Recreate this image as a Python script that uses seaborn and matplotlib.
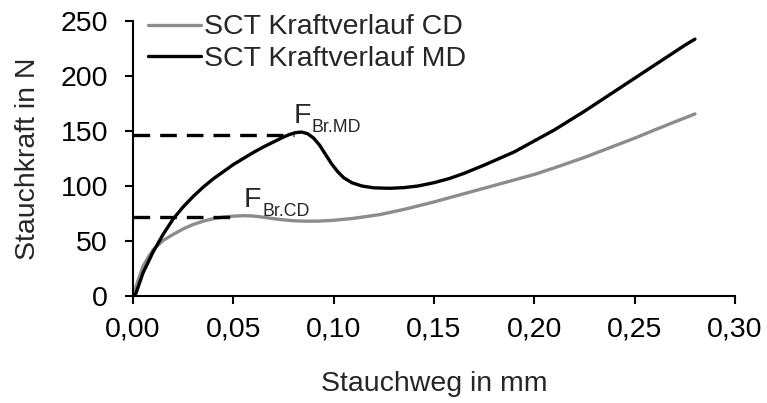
import numpy as np
import pandas as pd
import matplotlib
matplotlib.use("Agg")
import matplotlib.pyplot as plt
from matplotlib.ticker import FixedLocator
import seaborn as sns

# Stauchweg (mm) and force curves (N)
weg_cd = [0.0, 0.0025, 0.005, 0.0075, 0.010, 0.015, 0.020, 0.025, 0.030,
          0.035, 0.040, 0.045, 0.050, 0.055, 0.060, 0.065, 0.070, 0.075,
          0.080, 0.086, 0.093, 0.100, 0.110, 0.123, 0.135, 0.150, 0.165,
          0.180, 0.190, 0.200, 0.210, 0.225, 0.240, 0.250, 0.260, 0.270,
          0.280]
kraft_cd = [0, 14, 27, 35, 42, 50.5, 56, 61, 65,
            68, 70.3, 71.8, 72.6, 73, 72.7, 71.6, 70.3, 69.2,
            68.4, 68, 68.1, 68.8, 70.6, 74, 78.7, 85.5, 93,
            100.5, 105.5, 110.5, 116.5, 126, 136.5, 143.5, 151, 158.3,
            165.5]

weg_md = [0.0, 0.001, 0.005, 0.010, 0.015, 0.020, 0.025, 0.030, 0.035,
          0.040, 0.045, 0.050, 0.055, 0.060, 0.065, 0.070, 0.075, 0.078,
          0.081, 0.084, 0.087, 0.090, 0.093, 0.096, 0.099, 0.102, 0.105,
          0.109, 0.114, 0.120, 0.128, 0.135, 0.142, 0.150, 0.158, 0.165,
          0.175, 0.190, 0.200, 0.210, 0.225, 0.240, 0.250, 0.260, 0.270,
          0.275, 0.280]
kraft_md = [0, 0, 21, 40, 56, 70, 81, 90.5, 99,
            106.5, 113, 119.5, 125, 130.5, 135.5, 140, 144.5, 146.8,
            148.5, 149, 147.5, 143.5, 137, 128.5, 120, 113, 107.5,
            103, 100, 98.3, 97.9, 98.5, 100, 103, 107, 111.5,
            119, 131, 141, 151, 168, 186, 198, 210, 222,
            228, 233.5]

serie_labels = ["SCT Kraftverlauf CD", "SCT Kraftverlauf MD"]

# Breaking forces and where their guide lines end
f_br_cd = 72
f_br_md = 146.4
f_br_cd_x = 0.0506
f_br_md_x = 0.080

x_ticks = [0.00, 0.05, 0.10, 0.15, 0.20, 0.25, 0.30]
x_ticklabels = ["0,00", "0,05", "0,10", "0,15", "0,20", "0,25", "0,30"]
y_ticks = [0, 50, 100, 150, 200, 250]

FS = 20.5

sns.set_style("ticks")
plt.rcParams["font.family"] = ["Liberation Sans", "DejaVu Sans"]

df = pd.concat([
    pd.DataFrame({"weg": weg_cd, "kraft": kraft_cd, "serie": serie_labels[0]}),
    pd.DataFrame({"weg": weg_md, "kraft": kraft_md, "serie": serie_labels[1]}),
])

fig = plt.figure(figsize=(7.67, 4.03), dpi=100)
ax = fig.add_axes([0.1734, 0.2655, 0.785, 0.6825])

sns.lineplot(data=df, x="weg", y="kraft", hue="serie",
             palette={serie_labels[0]: "#8c8c8c", serie_labels[1]: "#000000"},
             linewidth=2.4, ax=ax, sort=False)
for ln in ax.get_lines():
    ln.set_solid_joinstyle("round")
    ln.set_solid_capstyle("round")

# Dashed guides to the breaking forces
ax.plot([0, f_br_md_x], [f_br_md, f_br_md], color="black", lw=2.4,
        dashes=(5, 3), dash_capstyle="butt")
ax.plot([0, f_br_cd_x], [f_br_cd, f_br_cd], color="black", lw=2.4,
        dashes=(5, 3), dash_capstyle="butt")

# F with subscript, drawn as main letter plus offset subscript text
for (fx, fy, sub) in [(0.0799, 157, "Br.MD"), (0.0553, 80.5, "Br.CD")]:
    ax.text(fx, fy, "F", fontsize=FS, ha="left", va="baseline")
    ax.annotate(sub, xy=(fx, fy), xytext=(13.3, -6.5),
                textcoords="offset points", fontsize=12.8,
                ha="left", va="baseline")

ax.set_xlim(0, 0.30)
ax.set_ylim(0, 250)
ax.xaxis.set_major_locator(FixedLocator(x_ticks))
ax.set_xticklabels(x_ticklabels)
ax.yaxis.set_major_locator(FixedLocator(y_ticks))

ax.tick_params(axis="both", labelsize=FS, length=6, width=1.5, direction="out",
               color="black", labelcolor="black")
ax.tick_params(axis="y", pad=12)
ax.tick_params(axis="x", pad=9)
for side in ("left", "bottom"):
    ax.spines[side].set_linewidth(1.5)
    ax.spines[side].set_color("black")
sns.despine(ax=ax)

ax.set_xlabel("Stauchweg in mm", fontsize=FS, labelpad=20)
ax.set_ylabel("Stauchkraft in N", fontsize=FS, labelpad=14)

leg = ax.legend(loc="upper left", bbox_to_anchor=(0.006, 1.065), frameon=False,
                fontsize=FS, handlelength=1.85, handletextpad=0.1,
                labelspacing=0.2, borderaxespad=0)
for h in leg.get_lines():
    h.set_linewidth(2.4)

fig.savefig("out.png", dpi=100)
